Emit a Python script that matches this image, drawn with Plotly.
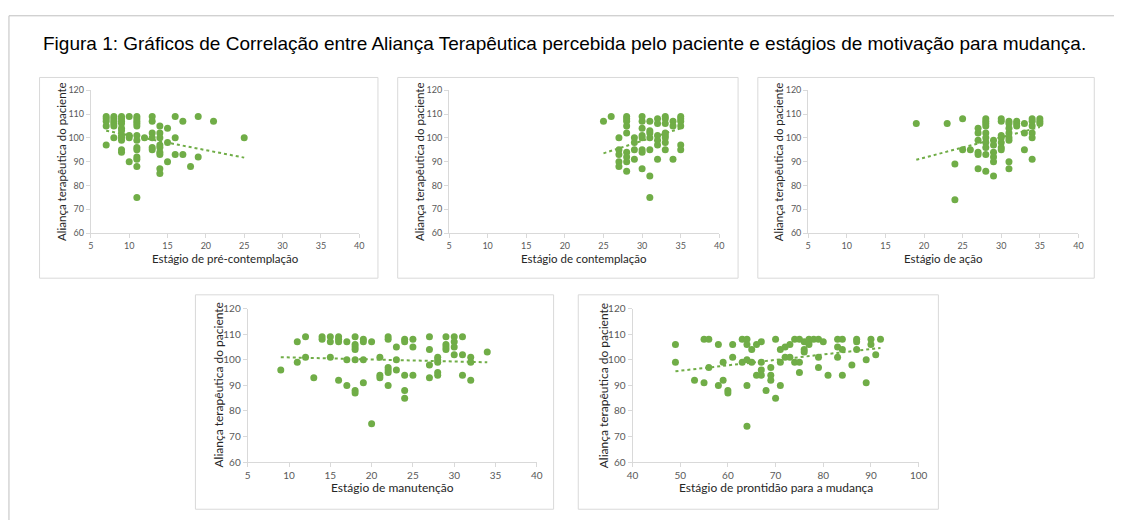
import plotly.graph_objects as go

W, H = 1123, 525

fig_title = "Figura 1: Gráficos de Correlação entre Aliança Terapêutica percebida pelo paciente e estágios de motivação para mudança."
y_axis_title = "Aliança terapêutica do paciente"

# ---------- data (x value, then list of y values at that x) ----------
pre_x = [7, 8, 9, 10, 11, 12, 13, 14, 15, 16, 17, 18, 19, 21, 25]
pre_y = [[109, 108, 107, 105, 97], [109, 108, 107, 106, 105, 100],
         [109, 108, 107, 106, 104, 103, 101, 100, 99, 95, 94], [109, 101, 100, 90],
         [109, 108, 107, 106, 105, 101, 99, 96, 95, 92, 91, 88, 75], [100],
         [109, 107, 102, 100, 96, 95], [105, 102, 100, 97, 96, 94, 93, 87, 85],
         [104, 98, 90], [109, 100, 93], [107, 93], [88], [109, 92], [107], [100]]

con_x = [25, 26, 27, 28, 29, 30, 31, 32, 33, 34, 35]
con_y = [[107], [109], [100, 95, 93, 90, 88], [109, 108, 107, 105, 102, 94, 92, 90, 86],
         [100, 98, 95, 91], [109, 107, 104, 101, 100, 95, 94, 87],
         [107, 103, 102, 100, 95, 84, 75], [108, 106, 101, 99, 97, 91],
         [109, 108, 106, 102, 101, 100, 98, 95], [107, 105, 91],
         [109, 108, 107, 105, 97, 95]]

aca_x = [19, 23, 24, 25, 26, 27, 28, 29, 30, 31, 32, 33, 34, 35]
aca_y = [[106], [106], [89, 74], [108, 95], [95], [104, 102, 99, 94, 93, 87],
         [108, 107, 106, 105, 102, 100, 98, 96, 93, 86], [99, 97, 94, 92, 90, 84],
         [108, 107, 101, 100, 98, 96, 95], [107, 106, 104, 102, 100, 99, 90, 87],
         [107, 106, 105], [106, 102, 95], [108, 107, 105, 102, 100, 91], [108, 107, 106]]

man_x = [9, 11, 12, 13, 14, 15, 16, 17, 18, 19, 20, 21, 22, 23, 24, 25, 27, 28, 29, 30, 31, 32, 34]
man_y = [[96], [107, 99], [109, 101], [93], [109, 108], [109, 107, 101], [109, 108, 107, 92],
         [107, 100, 90], [109, 106, 105, 104, 100, 88, 87], [108, 107, 100, 91], [107, 75],
         [101, 94, 93], [109, 108, 97, 96, 95, 90], [105, 100, 96], [108, 107, 94, 88, 85],
         [108, 105, 94], [109, 104, 98, 93], [101, 100, 99, 95, 94], [109, 106, 105, 104],
         [109, 107, 105, 102], [109, 102, 94], [101, 99, 92], [103]]

pro_x = [49, 53, 55, 56, 58, 59, 60, 61, 63, 64, 65, 66, 67, 68, 69, 70, 71, 72, 73, 74,
         75, 76, 77, 78, 79, 80, 81, 83, 84, 86, 87, 89, 90, 91, 92]
pro_y = [[106, 99], [92], [108, 91], [108, 97], [106, 90], [99, 92], [88, 87], [106, 101],
         [108, 99], [108, 106, 100, 90, 74], [104, 99], [106, 94], [107, 99, 96, 94], [88],
         [97, 94, 92], [108, 85], [104, 99, 90], [105, 101], [106, 101], [108, 99],
         [108, 99, 95], [107, 104, 103], [108, 107, 106], [108], [108, 101, 97], [107], [94],
         [108, 105, 101], [108, 104, 94], [98], [108, 107, 104], [100, 91], [108, 106], [102], [108]]

# trend line end points
trend_x = [[7, 25], [25, 35], [19, 35], [9, 34], [49, 92]]
trend_y = [[103, 91.7], [93.5, 104], [90.8, 104.5], [101, 99], [95.5, 104.6]]

x_titles = ["Estágio de pré-contemplação", "Estágio de contemplação", "Estágio de ação",
            "Estágio de manutenção", "Estágio de prontidão para a mudança"]
x_ranges = [[5, 40], [5, 40], [5, 40], [5, 40], [40, 100]]
x_dticks = [5, 5, 5, 5, 10]

panels_x = [pre_x, con_x, aca_x, man_x, pro_x]
panels_y = [pre_y, con_y, aca_y, man_y, pro_y]

# ---------- layout geometry (pixels of a 1123x525 page) ----------
plot_boxes = [(86, 358, 86, 232), (449, 723, 86, 232), (813, 1087, 86, 232),
              (245, 538, 309, 466), (635, 925, 309, 466)]
frame_boxes = [(34, 377, 73, 278), (397, 742, 73, 278), (762, 1103, 73, 278),
               (192, 555, 295, 514), (580, 945, 295, 514)]
tick_sizes = [9, 9, 9, 10, 10]
title_sizes = [11.5, 11.5, 11.5, 12, 12]

GREEN = "#70AD47"
AXIS = "#D9D9D9"
FAM = "Lato, Open Sans, sans-serif"


def px_x(v):
    return v / W


def px_y(v):
    return 1 - v / H


fig = go.Figure()
layout = dict(width=W, height=H, margin=dict(l=0, r=0, t=0, b=0, pad=0),
              paper_bgcolor="white", plot_bgcolor="white", showlegend=False)
shapes = []
annotations = []

for i in range(5):
    n = "" if i == 0 else str(i + 1)
    xs, ys = [], []
    for xv, yl in zip(panels_x[i], panels_y[i]):
        for yv in yl:
            xs.append(xv)
            ys.append(yv)
    fig.add_trace(go.Scatter(x=trend_x[i], y=trend_y[i], mode="lines",
                             line=dict(color=GREEN, width=2, dash="dot"),
                             xaxis="x" + n, yaxis="y" + n, hoverinfo="skip"))
    fig.add_trace(go.Scatter(x=xs, y=ys, mode="markers",
                             marker=dict(color=GREEN, size=7, line=dict(width=0)),
                             xaxis="x" + n, yaxis="y" + n))
    tf = dict(family=FAM, size=tick_sizes[i], color="#595959")
    ttf = dict(family=FAM, size=title_sizes[i], color="#262626")
    l, r, t, b = plot_boxes[i]
    layout["xaxis" + n] = dict(domain=[px_x(l), px_x(r)], anchor="y" + n,
                               range=x_ranges[i], dtick=x_dticks[i], tick0=0,
                               showline=True, linecolor=AXIS, linewidth=1,
                               ticks="outside", ticklen=4, tickcolor=AXIS,
                               showgrid=False, zeroline=False, tickfont=tf)
    layout["yaxis" + n] = dict(domain=[px_y(b), px_y(t)], anchor="x" + n,
                               range=[60, 120], dtick=10,
                               showline=True, linecolor=AXIS, linewidth=1,
                               ticks="outside", ticklen=4, tickcolor=AXIS,
                               showgrid=False, zeroline=False, tickfont=tf)
    fl, fr, ft, fb = frame_boxes[i]
    shapes.append(dict(type="rect", xref="paper", yref="paper",
                       x0=px_x(fl), x1=px_x(fr), y0=px_y(fb), y1=px_y(ft),
                       line=dict(color=AXIS, width=1), layer="below"))
    annotations.append(dict(text=x_titles[i], xref="paper", yref="paper",
                            x=px_x((l + r) / 2), y=px_y(b + 26), showarrow=False,
                            xanchor="center", yanchor="middle", font=ttf))
    annotations.append(dict(text=y_axis_title, xref="paper", yref="paper",
                            x=px_x(l - 30), y=px_y((t + b) / 2), showarrow=False,
                            textangle=-90, xanchor="center", yanchor="middle",
                            font=ttf))

# outer frame of the figure (top and left edges)
shapes.append(dict(type="line", xref="paper", yref="paper", x0=px_x(3), x1=1,
                   y0=px_y(10), y1=px_y(10), line=dict(color="#BFBFBF", width=1)))
shapes.append(dict(type="line", xref="paper", yref="paper", x0=px_x(3), x1=px_x(3),
                   y0=px_y(10), y1=0, line=dict(color="#BFBFBF", width=1)))

annotations.append(dict(text=fig_title, xref="paper", yref="paper", x=px_x(35), y=px_y(38),
                        showarrow=False, xanchor="left", yanchor="middle",
                        font=dict(family="Liberation Sans, Arial, sans-serif", size=19,
                                  color="#000000")))

layout["shapes"] = shapes
layout["annotations"] = annotations
fig.update_layout(**layout)
fig.write_html(
    "out.html",
    config={"displayModeBar": False},
    post_script=("document.body.style.margin='0';"
                 "document.body.style.overflow='hidden';"),
)
